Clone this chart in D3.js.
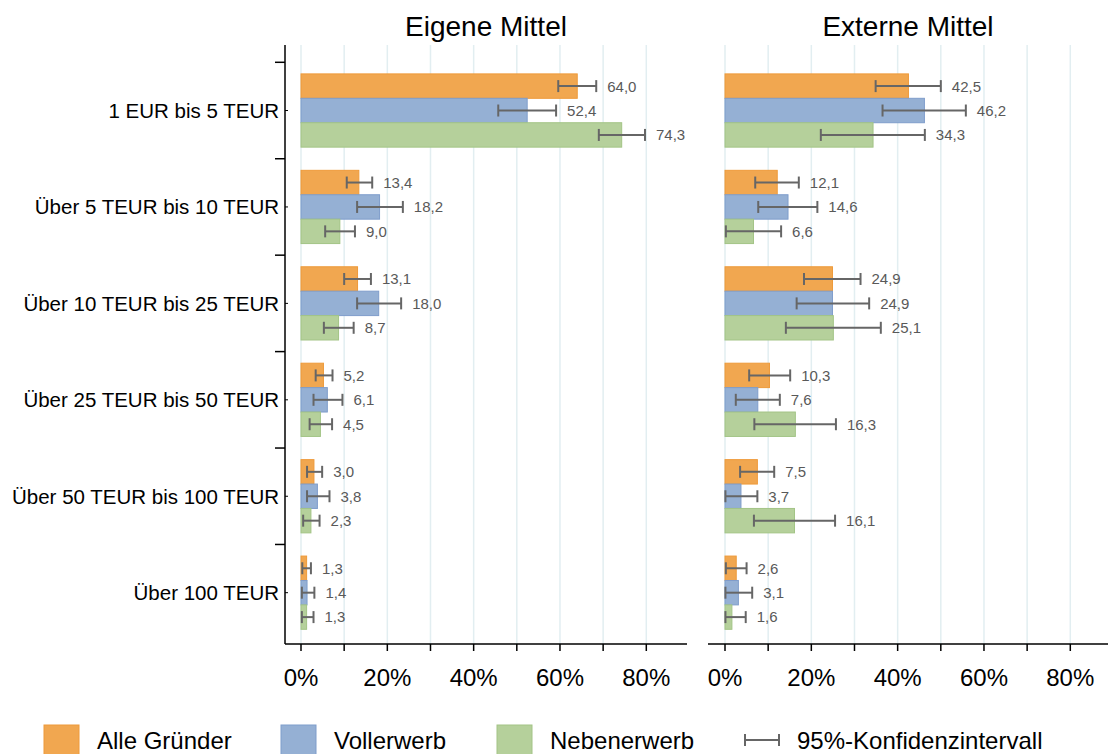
<!DOCTYPE html>
<html>
<head>
<meta charset="utf-8">
<script src="https://cdn.jsdelivr.net/npm/d3@7"></script>
<style>
  body { margin: 0; background: #fff; }
  svg { display: block; font-family: "Liberation Sans", Arial, sans-serif; }
</style>
</head>
<body>
<svg id="chart" width="1108" height="754"></svg>
<script>
const categories = ['1 EUR bis 5 TEUR', 'Über 5 TEUR bis 10 TEUR', 'Über 10 TEUR bis 25 TEUR',
  'Über 25 TEUR bis 50 TEUR', 'Über 50 TEUR bis 100 TEUR', 'Über 100 TEUR'];
const seriesNames = ['Alle Gründer', 'Vollerwerb', 'Nebenerwerb'];
const seriesColors = ['#F1A750', '#95B0D4', '#B5D09B'];
const seriesStroke = ['#EE9A3A', '#7F9DCB', '#A3C486'];
const panelTitles = ['Eigene Mittel', 'Externe Mittel'];
const xTicks = [0, 10, 20, 30, 40, 50, 60, 70, 80];
const xTickLabels = ['0%', '', '20%', '', '40%', '', '60%', '', '80%'];

// Eigene Mittel
const eigeneAlle     = [64.0, 13.4, 13.1, 5.2, 3.0, 1.3];
const eigeneAlleLo   = [59.6, 10.6, 10.0, 3.4, 1.4, 0.3];
const eigeneAlleHi   = [68.4, 16.5, 16.2, 7.3, 4.9, 2.3];
const eigeneVoll     = [52.4, 18.2, 18.0, 6.1, 3.8, 1.4];
const eigeneVollLo   = [45.7, 13.0, 13.0, 2.9, 1.4, 0.2];
const eigeneVollHi   = [59.1, 23.6, 23.2, 9.6, 6.6, 3.1];
const eigeneNeben    = [74.3, 9.0, 8.7, 4.5, 2.3, 1.3];
const eigeneNebenLo  = [69.0, 5.6, 5.3, 2.0, 0.5, 0.2];
const eigeneNebenHi  = [79.7, 12.5, 12.2, 7.2, 4.3, 2.9];

// Externe Mittel
const externeAlle    = [42.5, 12.1, 24.9, 10.3, 7.5, 2.6];
const externeAlleLo  = [34.9, 7.0, 18.3, 5.6, 3.5, 0.2];
const externeAlleHi  = [50.0, 17.1, 31.4, 15.1, 11.4, 5.0];
const externeVoll    = [46.2, 14.6, 24.9, 7.6, 3.7, 3.1];
const externeVollLo  = [36.5, 7.7, 16.6, 2.5, 0.1, 0.1];
const externeVollHi  = [55.8, 21.4, 33.4, 12.7, 7.5, 6.3];
const externeNeben   = [34.3, 6.6, 25.1, 16.3, 16.1, 1.6];
const externeNebenLo = [22.2, 0.2, 14.1, 6.8, 6.7, 0.1];
const externeNebenHi = [46.3, 13.0, 36.1, 25.7, 25.5, 4.8];

const panels = [
  { title: panelTitles[0], left: 285, zero: 301, right: 687,
    values: [eigeneAlle, eigeneVoll, eigeneNeben],
    lo: [eigeneAlleLo, eigeneVollLo, eigeneNebenLo],
    hi: [eigeneAlleHi, eigeneVollHi, eigeneNebenHi] },
  { title: panelTitles[1], left: 708, zero: 725, right: 1108,
    values: [externeAlle, externeVoll, externeNeben],
    lo: [externeAlleLo, externeVollLo, externeNebenLo],
    hi: [externeAlleHi, externeVollHi, externeNebenHi] }
];

const svg = d3.select('#chart');
const plotTop = 45, plotBottom = 644;
const fmt = v => d3.format('.1f')(v).replace('.', ',');

const yScale = d3.scaleBand().domain(categories).range([62.3, 640.9]).paddingInner(0).paddingOuter(0);
const ySub = d3.scaleBand().domain(seriesNames).range([0, yScale.bandwidth()]).paddingInner(0).paddingOuter(0.475);

panels.forEach((p, pi) => {
  const x = d3.scaleLinear().domain([0, 80]).range([p.zero, p.zero + 345.3]);
  const g = svg.append('g');

  // gridlines
  g.selectAll('.grid').data(xTicks).join('line')
    .attr('x1', d => x(d)).attr('x2', d => x(d))
    .attr('y1', plotTop).attr('y2', plotBottom)
    .attr('stroke', '#E2EEF1').attr('stroke-width', 1.5);

  // title
  g.append('text')
    .attr('x', (p.left + p.right) / 2).attr('y', 36)
    .attr('text-anchor', 'middle')
    .style('font-size', '28px').attr('fill', '#000')
    .text(p.title);

  // bars
  seriesNames.forEach((s, si) => {
    const rows = categories.map((c, ci) => ({
      c, v: p.values[si][ci], lo: p.lo[si][ci], hi: p.hi[si][ci]
    }));
    const sg = g.append('g');
    sg.selectAll('rect').data(rows).join('rect')
      .attr('x', x(0))
      .attr('y', d => yScale(d.c) + ySub(s))
      .attr('width', d => x(d.v) - x(0))
      .attr('height', ySub.bandwidth())
      .attr('fill', seriesColors[si])
      .attr('stroke', seriesStroke[si]).attr('stroke-width', 1);

    const cy = d => yScale(d.c) + ySub(s) + ySub.bandwidth() / 2;
    const eg = sg.selectAll('.err').data(rows).join('g').attr('class', 'err')
      .attr('stroke', '#666').attr('stroke-width', 2);
    eg.append('line').attr('x1', d => x(d.lo)).attr('x2', d => x(d.hi)).attr('y1', cy).attr('y2', cy);
    eg.append('line').attr('x1', d => x(d.lo)).attr('x2', d => x(d.lo)).attr('y1', d => cy(d) - 6).attr('y2', d => cy(d) + 6);
    eg.append('line').attr('x1', d => x(d.hi)).attr('x2', d => x(d.hi)).attr('y1', d => cy(d) - 6).attr('y2', d => cy(d) + 6);

    sg.selectAll('.lbl').data(rows).join('text')
      .attr('x', d => x(d.hi) + 11)
      .attr('y', cy).attr('dy', '0.36em')
      .style('font-size', '15px').attr('fill', '#595959')
      .text(d => fmt(d.v));
  });

  // x axis
  g.append('line').attr('x1', p.left).attr('x2', p.right).attr('y1', plotBottom).attr('y2', plotBottom)
    .attr('stroke', '#000').attr('stroke-width', 1.5);
  g.selectAll('.xt').data(xTicks).join('line')
    .attr('x1', d => x(d)).attr('x2', d => x(d)).attr('y1', plotBottom).attr('y2', plotBottom + 7)
    .attr('stroke', '#000').attr('stroke-width', 1.5);
  g.selectAll('.xl').data(xTicks).join('text')
    .attr('x', d => x(d)).attr('y', 686)
    .attr('text-anchor', 'middle')
    .style('font-size', '24px').attr('fill', '#000')
    .text((d, i) => xTickLabels[i]);

  if (pi === 0) {
    // y axis
    g.append('line').attr('x1', p.left).attr('x2', p.left).attr('y1', plotTop).attr('y2', plotBottom)
      .attr('stroke', '#000').attr('stroke-width', 1.5);
    const bounds = categories.map(c => yScale(c));
    g.selectAll('.yt').data(bounds).join('line')
      .attr('x1', p.left - 10).attr('x2', p.left).attr('y1', d => d).attr('y2', d => d)
      .attr('stroke', '#000').attr('stroke-width', 1.5);
    g.selectAll('.ym').data(categories).join('line')
      .attr('x1', p.left).attr('x2', p.left + 3)
      .attr('y1', d => yScale(d) + yScale.bandwidth() / 2).attr('y2', d => yScale(d) + yScale.bandwidth() / 2)
      .attr('stroke', '#000').attr('stroke-width', 1);
    g.selectAll('.yl').data(categories).join('text')
      .attr('x', 279).attr('y', d => yScale(d) + yScale.bandwidth() / 2).attr('dy', '0.36em')
      .attr('text-anchor', 'end')
      .style('font-size', '20.5px').attr('fill', '#000')
      .text(d => d);
  }
});

// legend
const legendX = [44, 281, 497];
const lg = svg.append('g');
seriesNames.forEach((s, i) => {
  lg.append('rect').attr('x', legendX[i]).attr('y', 725).attr('width', 35).attr('height', 32)
    .attr('fill', seriesColors[i]).attr('stroke', seriesStroke[i]);
  lg.append('text').attr('x', legendX[i] + 53).attr('y', 749)
    .style('font-size', '24px').attr('fill', '#000').text(s);
});
lg.append('line').attr('x1', 744).attr('x2', 780).attr('y1', 740).attr('y2', 740)
  .attr('stroke', '#666').attr('stroke-width', 2);
lg.append('line').attr('x1', 745).attr('x2', 745).attr('y1', 734).attr('y2', 746)
  .attr('stroke', '#666').attr('stroke-width', 2);
lg.append('line').attr('x1', 779).attr('x2', 779).attr('y1', 734).attr('y2', 746)
  .attr('stroke', '#666').attr('stroke-width', 2);
lg.append('text').attr('x', 797).attr('y', 749)
  .style('font-size', '24px').attr('fill', '#000').text('95%-Konfidenzintervall');
</script>
</body>
</html>
